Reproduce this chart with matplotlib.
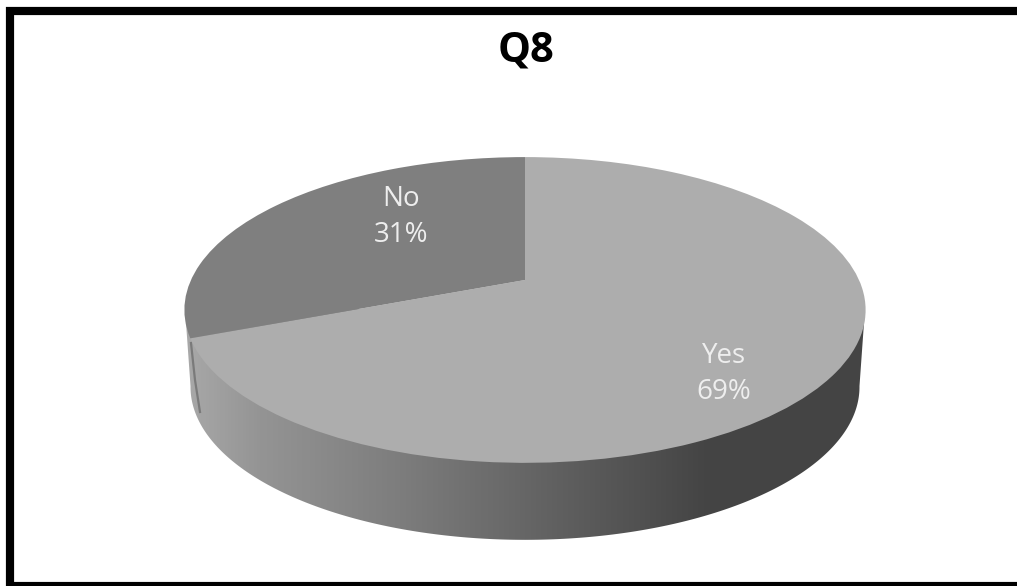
import numpy as np
import matplotlib
matplotlib.use('Agg')
import matplotlib.pyplot as plt
from matplotlib.colors import LinearSegmentedColormap
from matplotlib.patches import Polygon
from matplotlib.transforms import Transform

categories = ['Yes', 'No']
values = [69, 31]
slice_colors = ['#adadad', '#7f7f7f']
title = 'Q8'

# gray of the pie wall, left to right
wall_x = [185, 260, 400, 525, 650, 705, 866]
wall_gray = [0.66, 0.58, 0.49, 0.40, 0.31, 0.27, 0.27]

plt.rcParams['font.family'] = ['Open Sans', 'DejaVu Sans']


class Tilt(Transform):
    """Perspective view of the unit disc, output in image pixels."""
    input_dims = 2
    output_dims = 2

    def __init__(self, cx, cy, sx, sy, k):
        super().__init__()
        self.cx, self.cy, self.sx, self.sy, self.k = cx, cy, sx, sy, k

    def transform_non_affine(self, xy):
        xy = np.asarray(xy)
        w = 1 + self.k * xy[:, 1]
        return np.column_stack((self.cx + self.sx * xy[:, 0] / w,
                                self.cy - self.sy * xy[:, 1] / w))


fig = plt.figure(figsize=(10.17, 5.86), dpi=100)
ax = fig.add_axes([0, 0, 1, 1])

top = Tilt(525, 280, 334, 147, 0.196)
bottom = Tilt(525, 357, 328, 147, 0.196)

wedges, _ = ax.pie(values, colors=slice_colors, startangle=90, counterclock=False)
for w in wedges:
    w.set_transform(top + ax.transData)
    w.set_zorder(3)
    w.set_clip_on(False)

ax.set_aspect('auto')
ax.axis('off')

# wall: gradient clipped to the lower part of the two discs
t = np.linspace(np.radians(191), np.radians(349), 300)
rim = bottom.transform_non_affine(np.column_stack((np.cos(t), np.sin(t))))
left = top.transform_non_affine(np.array([[-0.98, -0.19]]))
right = top.transform_non_affine(np.array([[0.98, -0.19]]))
outline = np.vstack((left, rim, right))
clip = Polygon(outline, closed=True, transform=ax.transData, fc='none', ec='none')
ax.add_patch(clip)

cmap = LinearSegmentedColormap.from_list(
    'wall', [((x - wall_x[0]) / (wall_x[-1] - wall_x[0]), (g, g, g))
             for x, g in zip(wall_x, wall_gray)])
grad = np.linspace(0, 1, 512).reshape(1, -1)
im = ax.imshow(grad, cmap=cmap, vmin=0, vmax=1, aspect='auto', zorder=2,
               extent=(wall_x[0], wall_x[-1], 560, 280))
im.set_clip_path(clip)
ax.set_xlim(0, 1017)
ax.set_ylim(586, 0)

# thin edge of the No slice seen at the left of the wall
ax.plot([191, 195, 200], [343, 380, 412], color='#7a7a7a', lw=1.6, zorder=2.5)

# black frame, open on the right
ax.plot([1017, 10, 10], [11, 11, 586], color='black', lw=5.9,
        solid_joinstyle='miter', solid_capstyle='butt', zorder=5)
ax.plot([10, 1017], [584, 584], color='black', lw=3.0, solid_capstyle='butt', zorder=5)

ax.text(526, 62, title, fontsize=30, fontweight='bold', ha='center',
        va='baseline', color='black', zorder=6)
ax.text(724, 374, f'{categories[0]}\n{values[0]}%', fontsize=20, color='#eeeeee',
        ha='center', va='center', linespacing=1.4, zorder=6)
ax.text(401, 217, f'{categories[1]}\n{values[1]}%', fontsize=20, color='#eeeeee',
        ha='center', va='center', linespacing=1.4, zorder=6)

fig.savefig('out.png', dpi=100)
